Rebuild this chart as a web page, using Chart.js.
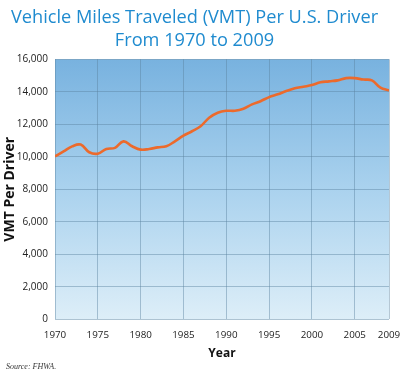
<!DOCTYPE html>
<html><head><meta charset="utf-8">
<script src="https://cdn.jsdelivr.net/npm/chart.js@4/dist/chart.umd.min.js"></script>
<style>html,body{margin:0;padding:0;background:#fff}#wrap{width:400px;height:375px}</style>
</head><body><div id="wrap"><canvas id="c" width="400" height="375"></canvas></div>
<script>
const years = [1970,1971,1972,1973,1974,1975,1976,1977,1978,1979,1980,1981,1982,1983,1984,1985,1986,1987,1988,1989,1990,1991,1992,1993,1994,1995,1996,1997,1998,1999,2000,2001,2002,2003,2004,2005,2006,2007,2008,2009];
const vmtPerDriver = [10030,10330,10640,10750,10280,10190,10480,10550,10950,10650,10440,10480,10580,10650,10950,11300,11570,11880,12400,12710,12830,12830,12950,13220,13420,13670,13840,14040,14210,14310,14410,14580,14640,14700,14840,14840,14750,14700,14250,14080];
const xTickValues = [1970,1975,1980,1985,1990,1995,2000,2005,2009];
const yTickValues = [0,2000,4000,6000,8000,10000,12000,14000,16000];

const bgPlugin = {
  id:'bg',
  beforeDraw(chart){
    const {ctx, chartArea:a} = chart;
    const g = ctx.createLinearGradient(0,a.top,0,a.bottom);
    g.addColorStop(0,'#78b2df');
    g.addColorStop(0.5,'#aad2ee');
    g.addColorStop(1,'#ddeef8');
    ctx.save(); ctx.fillStyle=g; ctx.fillRect(a.left,a.top,a.right-a.left,a.bottom-a.top); ctx.restore();
  }
};

new Chart(document.getElementById('c'), {
  type:'line',
  data:{ datasets:[{ data: years.map((y,i)=>({x:y,y:vmtPerDriver[i]})), borderColor:'#ec6a2c', borderWidth:2.6, pointRadius:0, tension:0.4, fill:false }]},
  options:{
    responsive:false, animation:false, devicePixelRatio:1,
    layout:{padding:{left:0,right:11,top:0,bottom:0}},
    plugins:{
      legend:{display:false}, tooltip:{enabled:false},
      title:{display:true, text:['Vehicle Miles Traveled (VMT) Per U.S. Driver','From 1970 to 2009'], color:'#1f8bcf', font:{family:'Open Sans', size:18.2, weight:'normal', lineHeight:1.27}, padding:{top:6,bottom:7}},
      subtitle:{display:true, position:'bottom', align:'start', text:'   Source: FHWA.', color:'#333', font:{family:'Liberation Serif', size:8, style:'italic'}, padding:{top:2,bottom:3}}
    },
    scales:{
      x:{ type:'linear', min:1970, max:2009,
        afterBuildTicks(s){ s.ticks = xTickValues.map(v=>({value:v})); },
        afterFit(s){ s.height = 41; s.paddingLeft = 0; s.paddingRight = 0; },
        ticks:{ color:'#222', font:{family:'Open Sans', size:9.8}, padding:10, maxRotation:0, autoSkip:false, callback:v=>String(v) },
        grid:{ color:'rgba(90,130,160,0.45)', drawTicks:false },
        border:{ display:false },
        title:{ display:true, text:'Year', color:'#111', font:{family:'Open Sans', size:12, weight:'bold'}, padding:{top:4,bottom:0} }
      },
      y:{ min:0, max:16000,
        afterBuildTicks(s){ s.ticks = yTickValues.map(v=>({value:v})); },
        afterFit(s){ s.width = 55; s.paddingTop = 0; s.paddingBottom = 0; },
        ticks:{ color:'#222', font:{family:'Open Sans', size:10}, padding:7, callback:v=>v.toLocaleString('en-US') },
        grid:{ color:'rgba(90,130,160,0.45)', drawTicks:false },
        border:{ display:false },
        title:{ display:true, text:'VMT Per Driver', color:'#111', font:{family:'Open Sans', size:14, weight:'bold'}, padding:{top:2,bottom:0} }
      }
    }
  },
  plugins:[bgPlugin]
});
</script></body></html>
